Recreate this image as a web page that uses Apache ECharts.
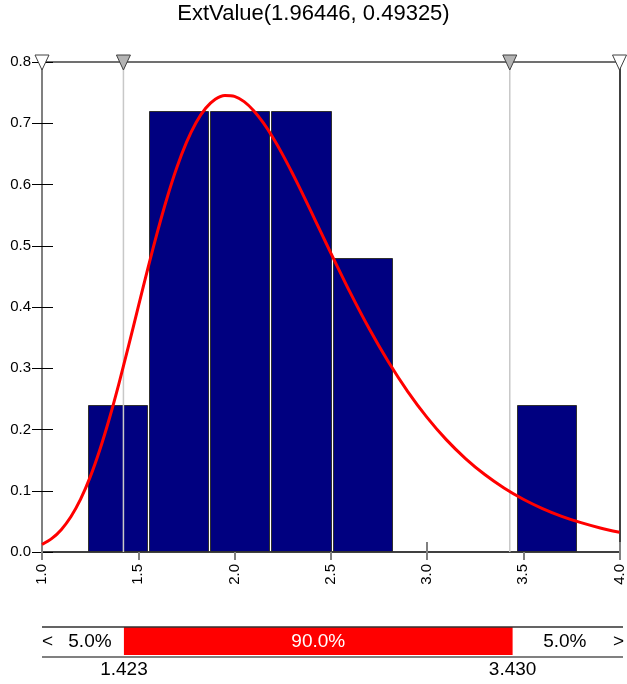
<!DOCTYPE html>
<html>
<head>
<meta charset="utf-8">
<script src="https://cdn.jsdelivr.net/npm/echarts@6/dist/echarts.min.js"></script>
<style>
html,body{margin:0;padding:0;background:#fff;}
#chart{width:627px;height:684px;}
</style>
</head>
<body>
<div id="chart"></div>
<script>
// ---- data ----
const chartTitle = 'ExtValue(1.96446, 0.49325)';
const binLeft   = [1.2395, 1.557, 1.8745, 2.192, 2.5095, 3.4695];
const binRight  = [1.557, 1.8745, 2.192, 2.5095, 2.827, 3.787];
const binHeight = [0.24, 0.72, 0.72, 0.72, 0.48, 0.24];
const curveX = [1.0, 1.05, 1.1, 1.15, 1.2, 1.25, 1.3, 1.35, 1.4, 1.45, 1.5, 1.55, 1.6, 1.65, 1.7, 1.75, 1.8, 1.85, 1.9, 1.95, 2.0,
                2.05, 2.1, 2.15, 2.2, 2.25, 2.3, 2.35, 2.4, 2.45, 2.5,
                2.6, 2.7, 2.8, 2.9, 3.0, 3.1, 3.2, 3.3, 3.4, 3.5, 3.6, 3.7, 3.8, 3.9, 4.0];
const curveY = [0.0122, 0.0218, 0.0365, 0.0576, 0.0860, 0.1223, 0.1666, 0.2180, 0.2754, 0.3369, 0.4002, 0.4630, 0.5231, 0.5784, 0.6273,
                0.6683, 0.7008, 0.7244, 0.7392, 0.7455, 0.7439,
                0.7353, 0.7205, 0.7005, 0.6763, 0.6488, 0.6188, 0.5871, 0.5544, 0.5214, 0.4884,
                0.4243, 0.3644, 0.3101, 0.2619, 0.2198, 0.1835, 0.1526, 0.1265,
                0.1046, 0.0862, 0.0710, 0.0583, 0.0479, 0.0393, 0.0322];
const lowBound = 1.423;
const highBound = 3.430;
const boundLabels = ['1.423', '3.430'];
const pctLeft = '5.0%';
const pctMid = '90.0%';
const pctRight = '5.0%';
const xMin = 1.0, xMax = 4.0, xStep = 0.5;
const yMin = 0.0, yMax = 0.8, yStep = 0.1;
const markerX = [xMin, lowBound, highBound, xMax];

// ---- chart ----
const FONT = '"Liberation Sans", Arial, sans-serif';
const chart = echarts.init(document.getElementById('chart'), null, {renderer: 'canvas'});

const option = {
  animation: false,
  backgroundColor: '#ffffff',
  title: {
    text: chartTitle,
    left: 'center',
    top: 3,
    padding: 0,
    textStyle: {fontFamily: FONT, fontSize: 22, fontWeight: 'normal', color: '#000'}
  },
  grid: [
    {left: 42, top: 62, width: 581, height: 490, containLabel: false},
    {left: 42, top: 627, width: 581, height: 30, containLabel: false}
  ],
  xAxis: [
    {
      type: 'value', gridIndex: 0, position: 'bottom', min: xMin, max: xMax, interval: xStep,
      axisLine: {show: true, onZero: false, lineStyle: {color: '#404040', width: 2}},
      axisTick: {show: true, inside: false, length: 8, lineStyle: {color: '#808080', width: 2}},
      axisLabel: {show: true, rotate: 90, margin: 12, fontFamily: FONT, fontSize: 15, color: '#000',
                  formatter: v => v.toFixed(1)},
      splitLine: {show: false}
    },
    {
      type: 'value', gridIndex: 0, position: 'bottom', min: xMin, max: xMax, interval: xStep,
      axisLine: {show: false, onZero: false},
      axisTick: {show: true, inside: true, length: 10, lineStyle: {color: '#808080', width: 2}},
      axisLabel: {show: false}, splitLine: {show: false}
    },
    {
      type: 'value', gridIndex: 0, position: 'top', min: xMin, max: xMax,
      axisLine: {show: true, onZero: false, lineStyle: {color: '#707070', width: 2}},
      axisTick: {show: false}, axisLabel: {show: false}, splitLine: {show: false}
    },
    {
      type: 'value', gridIndex: 1, min: xMin, max: xMax, show: false
    }
  ],
  yAxis: [
    {
      type: 'value', gridIndex: 0, position: 'left', min: yMin, max: yMax, interval: yStep,
      axisLine: {show: true, onZero: false, lineStyle: {color: '#808080', width: 2}},
      axisTick: {show: true, inside: false, length: 10, lineStyle: {color: '#000', width: 1}},
      axisLabel: {show: true, margin: 11, fontFamily: FONT, fontSize: 15, color: '#000',
                  formatter: v => v.toFixed(1)},
      splitLine: {show: false}
    },
    {
      type: 'value', gridIndex: 0, position: 'left', min: yMin, max: yMax, interval: yStep,
      axisLine: {show: false, onZero: false},
      axisTick: {show: true, inside: true, length: 11, lineStyle: {color: '#000', width: 1}},
      axisLabel: {show: false}, splitLine: {show: false}
    },
    {
      type: 'value', gridIndex: 0, position: 'right', min: yMin, max: yMax,
      axisLine: {show: true, onZero: false, lineStyle: {color: '#000', width: 1.5}},
      axisTick: {show: false}, axisLabel: {show: false}, splitLine: {show: false}
    },
    {
      type: 'value', gridIndex: 1, min: 0, max: 1, show: false
    }
  ],
  series: [
    {
      type: 'custom', xAxisIndex: 0, yAxisIndex: 0, z: 2, silent: true,
      data: binLeft.map((l, i) => [l, binRight[i], binHeight[i]]),
      encode: {x: [0, 1], y: 2},
      renderItem: function (params, api) {
        const p0 = api.coord([api.value(0), api.value(2)]);
        const p1 = api.coord([api.value(1), 0]);
        return {
          type: 'rect',
          shape: {x: Math.round(p0[0]) + 0.5, y: Math.round(p0[1]) + 0.5,
                  width: Math.round(p1[0]) - Math.round(p0[0]) - 2, height: p1[1] - Math.round(p0[1]) - 1},
          style: {fill: '#000080', stroke: '#303030', lineWidth: 1}
        };
      }
    },
    {
      type: 'custom', xAxisIndex: 0, yAxisIndex: 0, z: 3, silent: true,
      data: [[lowBound], [highBound]],
      encode: {x: 0},
      renderItem: function (params, api) {
        const a = api.coord([api.value(0), yMin]);
        const b = api.coord([api.value(0), yMax]);
        return {
          type: 'line',
          shape: {x1: a[0], y1: a[1], x2: b[0], y2: b[1]},
          style: {stroke: '#c8c8c8', lineWidth: 1.5}
        };
      }
    },
    {
      type: 'line', xAxisIndex: 0, yAxisIndex: 0, z: 4, silent: true,
      data: curveX.map((x, i) => [x, curveY[i]]),
      smooth: 0.25, showSymbol: false, symbol: 'none',
      lineStyle: {color: '#ff0000', width: 3}
    },
    {
      type: 'custom', xAxisIndex: 0, yAxisIndex: 0, z: 6, silent: true, clip: false,
      data: markerX.map((x, i) => [x, yMax, (i === 0 || i === markerX.length - 1) ? 0 : 1]),
      encode: {x: 0, y: 1},
      renderItem: function (params, api) {
        const p = api.coord([api.value(0), api.value(1)]);
        const fill = api.value(2) ? '#b4b4b4' : '#ffffff';
        return {
          type: 'polygon',
          shape: {points: [[p[0] - 7, p[1] - 7], [p[0] + 7, p[1] - 7], [p[0], p[1] + 8]]},
          style: {fill: fill, stroke: '#404040', lineWidth: 1}
        };
      }
    },
    {
      type: 'custom', xAxisIndex: 3, yAxisIndex: 3, z: 5, silent: true, clip: false,
      data: [[lowBound, highBound]],
      encode: {x: [0, 1]},
      renderItem: function (params, api) {
        const lo = api.value(0), hi = api.value(1);
        const tl = api.coord([xMin, 1]);
        const br = api.coord([xMax, 0]);
        const a = api.coord([lo, 1]);
        const b = api.coord([hi, 0]);
        const midY = (tl[1] + br[1]) / 2;
        const txt = (t, x, y, align, color) => ({
          type: 'text',
          style: {text: t, x: x, y: y, fill: color, font: '19px ' + FONT,
                  align: align, verticalAlign: 'middle', textAlign: align, textVerticalAlign: 'middle'}
        });
        return {
          type: 'group',
          children: [
            {type: 'rect', shape: {x: a[0], y: a[1], width: b[0] - a[0], height: b[1] - a[1] - 2},
             style: {fill: '#ff0000'}},
            {type: 'line', shape: {x1: tl[0], y1: tl[1], x2: br[0], y2: tl[1]},
             style: {stroke: '#303030', lineWidth: 1.5}},
            {type: 'line', shape: {x1: tl[0], y1: br[1], x2: br[0], y2: br[1]},
             style: {stroke: '#808080', lineWidth: 2}},
            txt('<', tl[0], midY, 'left', '#000'),
            txt('>', br[0] + 1, midY, 'right', '#000'),
            txt(pctLeft, (tl[0] + 10 + a[0]) / 2 + 2, midY, 'center', '#000'),
            txt(pctMid, (a[0] + b[0]) / 2, midY, 'center', '#ffffff'),
            txt(pctRight, (b[0] + br[0] - 10) / 2 + 2, midY, 'center', '#000'),
            txt(boundLabels[0], a[0], br[1] + 13, 'center', '#000'),
            txt(boundLabels[1], b[0], br[1] + 13, 'center', '#000')
          ]
        };
      }
    }
  ]
};
chart.setOption(option);
</script>
</body>
</html>
